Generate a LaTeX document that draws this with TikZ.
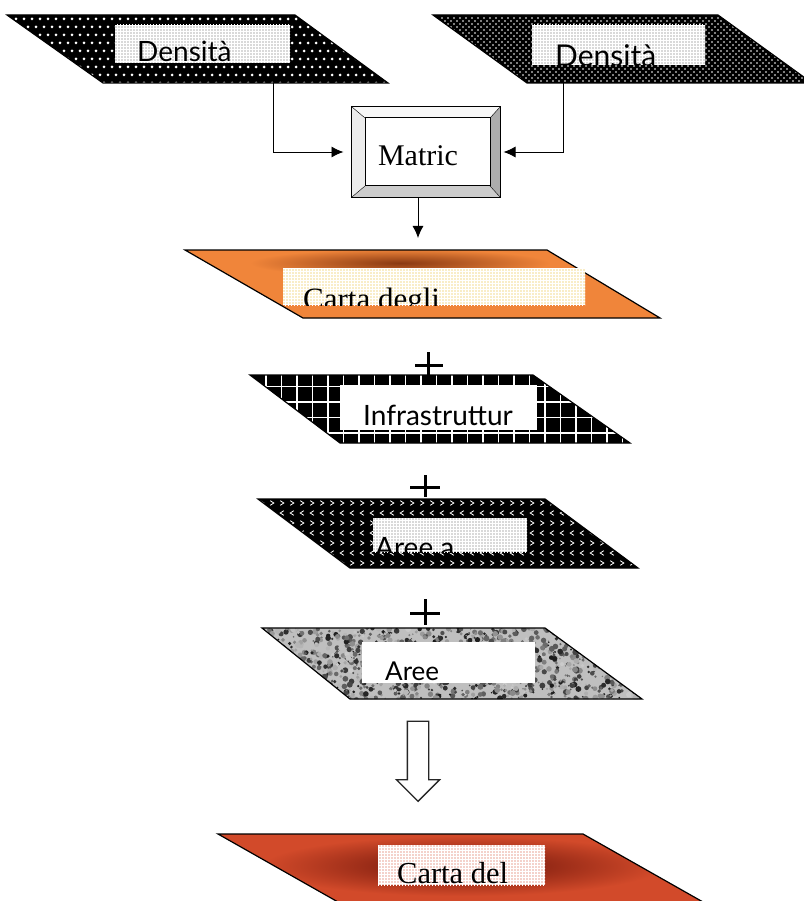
\documentclass[tikz,border=0pt]{standalone}
\usepackage{fontspec}
\setmainfont{Liberation Serif}
\newfontfamily\labelsans{Lato}
\usetikzlibrary{arrows.meta, shapes.arrows, patterns}

\definecolor{cartaorange}{HTML}{F0853A}
\definecolor{cartabrown}{HTML}{8A3A12}
\definecolor{cartared}{HTML}{D24A2A}
\definecolor{cartadark}{HTML}{6A1208}
\definecolor{boxyellow}{HTML}{F6E6B0}
\definecolor{boxpink}{HTML}{EDB4A8}

\tikzset{
  shape edge/.style={draw=black, line width=1.2pt},
  conn/.style={-{Latex[length=12pt, width=11pt]}, line width=0.9pt},
  plus sign/.style={line width=3pt},
  checker/.style={pattern=grid, pattern color=white},
  sans label/.style={font=\labelsans\fontsize{#1}{#1}\selectfont, anchor=base west, inner sep=0pt},
  serif label/.style={font=\fontsize{#1}{#1}\selectfont, anchor=base west, inner sep=0pt},
}

\begin{document}
\begin{tikzpicture}[x=1pt, y=-1pt]
    \useasboundingbox[fill=white] (0,0) rectangle (803,901);

    % Densita, left
    \def\densA{(7,15) -- (295,15) -- (388,83) -- (103,83) -- cycle}
    \fill[black] \densA;
    \begin{scope}
        \clip \densA;
        \foreach \y in {19,35,...,83} \foreach \x in {0,8,...,400} \fill[white] (\x,\y) circle (1.5);
        \foreach \y in {27,43,...,83} \foreach \x in {4,12,...,400} \fill[white] (\x,\y) circle (1.5);
    \end{scope}
    \draw[shape edge] \densA;
    \fill[gray!30] (115,25) rectangle (290,63);
    \fill[checker] (115,25) rectangle (290,63);
    \begin{scope}
        \clip (115,25) rectangle (290,63);
        \node[sans label=28] (densA-text) at (137,62) {Densità};
    \end{scope}

    % Densita, right
    \def\densB{(433,15) -- (718,15) -- (812,83) -- (527,83) -- cycle}
    \fill[black] \densB;
    \begin{scope}
        \clip \densB;
        \foreach \y in {18,24,...,84} \foreach \x in {430,436,...,812} \fill[white] (\x,\y) circle (0.8);
        \foreach \y in {21,27,...,84} \foreach \x in {433,439,...,812} \fill[white] (\x,\y) circle (0.8);
    \end{scope}
    \draw[shape edge] \densB;
    \fill[gray!30] (532,25) rectangle (705,65);
    \fill[checker] (532,25) rectangle (705,65);
    \begin{scope}
        \clip (532,25) rectangle (705,65);
        \node[sans label=30] (densB-text) at (555,67) {Densità};
    \end{scope}

    % Matric
    \node[draw, line width=1pt, minimum width=148, minimum height=90, inner sep=0pt] (matric) at (426,152) {};
    \fill[gray!6] (352,107) -- (500,107) -- (490,118) -- (365,118) -- cycle;
    \fill[gray!15] (352,107) -- (365,118) -- (365,186) -- (352,197) -- cycle;
    \fill[gray!65] (500,107) -- (500,197) -- (490,186) -- (490,118) -- cycle;
    \fill[gray!40] (352,197) -- (500,197) -- (490,186) -- (365,186) -- cycle;
    \draw[line width=1pt] (matric.north west) rectangle (matric.south east);
    \draw[line width=1pt] (365,118) rectangle (490,186);
    \draw (352,107) -- (365,118) (500,107) -- (490,118) (500,197) -- (490,186) (352,197) -- (365,186);
    \node[font=\fontsize{30}{30}\selectfont, inner sep=0pt] (matric-text) at (418,156) {Matric};

    \coordinate (densA-out) at (273,83);
    \coordinate (densB-out) at (563,83);
    \coordinate (cartaA-in) at (418,238);
    \draw[conn, shorten >=8pt] (densA-out) |- (matric.west);
    \draw[conn, shorten >=3pt] (densB-out) |- (matric.east);
    \draw[conn] (matric.south -| cartaA-in) -- (cartaA-in);

    % Carta degli
    \def\cartaA{(185,250) -- (547,250) -- (660,318) -- (303,318) -- cycle}
    \fill[cartaorange] \cartaA;
    \begin{scope}
        \clip \cartaA;
        \shade[inner color=cartabrown, outer color=cartaorange] (400,263) ellipse (150 and 14);
    \end{scope}
    \draw[shape edge] \cartaA;
    \fill[boxyellow!70] (283,268) rectangle (585,305);
    \fill[checker] (283,268) rectangle (585,305);
    \begin{scope}
        \clip (283,268) rectangle (585,305);
        \node[serif label=31] (cartaA-text) at (303,309) {Carta degli};
    \end{scope}

    % Infrastrutture
    \draw[plus sign] (415,365) -- (443,365) (428,352) -- (428,375);
    \def\infra{(250,375) -- (533,375) -- (630,443) -- (340,443) -- cycle}
    \fill[black] \infra;
    \begin{scope}
        \clip \infra;
        \foreach \x in {266,281.5,...,640} \draw[white, line width=1.8pt] (\x,370) -- (\x,450);
        \foreach \y in {386.5,402,...,445} \draw[white, line width=1.8pt] (240,\y) -- (640,\y);
    \end{scope}
    \draw[shape edge] \infra;
    \fill[white] (340,385) rectangle (537,430);
    \node[sans label=28] (infra-text) at (363,425) {Infrastruttur};

    % Aree a
    \draw[plus sign] (410,487) -- (440,487) (425,475) -- (425,497);
    \def\areeA{(258,499) -- (545,499) -- (638,568) -- (350,568) -- cycle}
    \fill[black] \areeA;
    \begin{scope}
        \clip \areeA;
        \foreach \y in {503,523,...,570} \foreach \x in {262,272,...,640}
            \draw[white, line width=0.8pt] (\x-1.8,\y-2.3) -- (\x+1.8,\y) -- (\x-1.8,\y+2.3);
        \foreach \y in {513,533,...,570} \foreach \x in {262,272,...,640}
            \draw[white, line width=0.8pt] (\x+1.8,\y-2.3) -- (\x-1.8,\y) -- (\x+1.8,\y+2.3);
    \end{scope}
    \draw[shape edge] \areeA;
    \fill[gray!30] (373,518) rectangle (527,552);
    \fill[checker] (373,518) rectangle (527,552);
    \begin{scope}
        \clip (373,518) rectangle (527,552);
        \node[sans label=28] (areeA-text) at (375,557) {Aree a};
    \end{scope}

    % Aree
    \draw[plus sign] (410,613) -- (440,613) (425,599) -- (425,625);
    \def\aree{(262,628) -- (545,628) -- (642,699) -- (350,699) -- cycle}
    \fill[gray!50] \aree;
    \begin{scope}
        \clip \aree;
        \pgfmathsetseed{42}
        \foreach \i in {1,...,1400} {
            \pgfmathsetmacro\px{262+380*rnd}
            \pgfmathsetmacro\py{628+72*rnd}
            \pgfmathsetmacro\pr{0.8+2.2*rnd}
            \pgfmathsetmacro\pg{20+70*rnd}
            \fill[black!\pg] (\px,\py) circle (\pr);
        }
    \end{scope}
    \draw[shape edge] \aree;
    \fill[white] (362,642) rectangle (535,683);
    \begin{scope}
        \clip (362,642) rectangle (535,683);
        \node[sans label=26] (aree-text) at (385,680) {Aree};
    \end{scope}

    % result
    \node[single arrow, draw=gray!30!black, line width=1.3pt, fill=white,
          inner xsep=0pt, inner ysep=10pt, minimum height=80, single arrow head extend=11,
          rotate=-90] (result-arrow) at (418,756) {};

    % Carta del
    \def\cartaB{(218,834) -- (583,834) -- (703,902) -- (338,902) -- cycle}
    \fill[cartared] \cartaB;
    \begin{scope}
        \clip \cartaB;
        \shade[inner color=cartadark, outer color=cartared] (462,866) ellipse (200 and 30);
    \end{scope}
    \draw[shape edge] \cartaB;
    \fill[boxpink!60] (378,845) rectangle (545,885);
    \fill[checker] (378,845) rectangle (545,885);
    \begin{scope}
        \clip (378,845) rectangle (545,885);
        \node[serif label=30.5] (cartaB-text) at (397,883) {Carta del};
    \end{scope}
\end{tikzpicture}
\end{document}
